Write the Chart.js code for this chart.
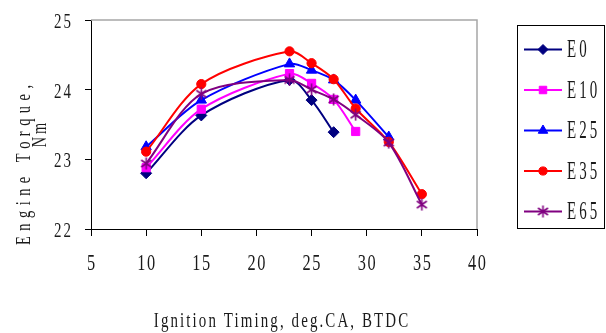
<!DOCTYPE html>
<html>
<head>
<meta charset="utf-8">
<script src="https://cdn.jsdelivr.net/npm/chart.js@4.4.1/dist/chart.umd.min.js"></script>
<style>
    html, body { margin: 0; padding: 0; background: #fff; }
</style>
</head>
<body>
<canvas id="torqueChart" width="606" height="333"></canvas>
<script>
// ignition timing, deg CA BTDC
const timingE0 = [10, 15, 23, 25, 27];
const timingE10 = [10, 15, 23, 25, 27, 29];
const timingE25 = [10, 15, 23, 25, 27, 29, 32];
const timingE35 = [10, 15, 23, 25, 27, 29, 32, 35];
const timingE65 = [10, 15, 23, 25, 27, 29, 32, 35];

// engine torque, Nm
const torqueE0 = [22.80, 23.63, 24.14, 23.85, 23.39];
const torqueE10 = [22.88, 23.72, 24.23, 24.09, 23.86, 23.40];
const torqueE25 = [23.18, 23.85, 24.37, 24.28, 24.14, 23.85, 23.32];
const torqueE35 = [23.11, 24.08, 24.55, 24.38, 24.15, 23.73, 23.25, 22.50];
const torqueE65 = [22.94, 23.94, 24.14, 24.00, 23.86, 23.64, 23.24, 22.35];

const seriesNames = ['E0', 'E10', 'E25', 'E35', 'E65'];
const xTicks = [5, 10, 15, 20, 25, 30, 35, 40];
const yTicks = [22, 23, 24, 25];
const xTitle = 'Ignition Timing, deg.CA, BTDC';
const yTitle = ['Engine Torque,', 'Nm'];

const FONT = '"Liberation Serif", "Times New Roman", serif';

// excel style asterisk: vertical bar plus an X
function starMarker(color) {
    const c = document.createElement('canvas');
    c.width = 13;
    c.height = 13;
    const g = c.getContext('2d');
    g.strokeStyle = color;
    g.lineWidth = 1.6;
    g.beginPath();
    g.moveTo(6.5, 0.5); g.lineTo(6.5, 12.5);
    g.moveTo(1.5, 3); g.lineTo(11.5, 10);
    g.moveTo(11.5, 3); g.lineTo(1.5, 10);
    g.stroke();
    return c;
}

function pairs(xs, ys) {
    return xs.map((x, i) => ({ x: x, y: ys[i] }));
}

// narrow, spaced serif text like the original figure
function drawText(ctx, text, x, y, o) {
    ctx.save();
    ctx.translate(x, y);
    if (o.rotate) ctx.rotate(o.rotate);
    ctx.scale(o.sx, 1);
    ctx.font = o.size + 'px ' + FONT;
    ctx.letterSpacing = (o.spacing / o.sx) + 'px';
    ctx.textBaseline = 'alphabetic';
    ctx.textAlign = 'left';
    const w = ctx.measureText(text).width - o.spacing / o.sx;
    let dx = 0;
    if (o.align === 'center') dx = -w / 2;
    else if (o.align === 'right') dx = -w;
    ctx.fillStyle = '#1a1a1a';
    ctx.fillText(text, dx, 0);
    ctx.restore();
}

const styles = [
    { color: '#000080', pointStyle: 'rectRot', radius: 5.5 },
    { color: '#ff00ff', pointStyle: 'rect', radius: 5.8 },
    { color: '#0000ff', pointStyle: 'triangle', radius: 6 },
    { color: '#ff0000', pointStyle: 'circle', radius: 4.6 },
    { color: '#800080', pointStyle: starMarker('#800080'), radius: 6 }
];
const seriesData = [
    pairs(timingE0, torqueE0),
    pairs(timingE10, torqueE10),
    pairs(timingE25, torqueE25),
    pairs(timingE35, torqueE35),
    pairs(timingE65, torqueE65)
];

const decorPlugin = {
    id: 'decor',
    beforeDatasetsDraw(chart) {
        const a = chart.chartArea;
        const ctx = chart.ctx;
        ctx.save();
        ctx.strokeStyle = '#a6a6a6';
        ctx.lineWidth = 1.5;
        ctx.beginPath();
        ctx.moveTo(a.left, a.top);
        ctx.lineTo(a.right, a.top);
        ctx.lineTo(a.right, a.bottom);
        ctx.stroke();
        ctx.restore();
    },
    afterDraw(chart) {
        const ctx = chart.ctx;
        const xs = chart.scales.x;
        const ys = chart.scales.y;

        xTicks.forEach(v => {
            drawText(ctx, String(v), xs.getPixelForValue(v), 270,
                { size: 24, sx: 0.68, spacing: 1.6, align: 'center' });
        });
        yTicks.forEach(v => {
            drawText(ctx, String(v), 71, ys.getPixelForValue(v) + 8,
                { size: 22, sx: 0.68, spacing: 2, align: 'right' });
        });

        drawText(ctx, xTitle, 281, 327, { size: 22, sx: 0.68, spacing: 2.1, align: 'center' });
        drawText(ctx, yTitle[0], 30, 165, { size: 20, sx: 0.72, spacing: 5.5, align: 'center', rotate: -Math.PI / 2 });
        drawText(ctx, yTitle[1], 46, 135, { size: 20, sx: 0.72, spacing: 3, align: 'center', rotate: -Math.PI / 2 });

        // legend box
        ctx.save();
        ctx.strokeStyle = '#000';
        ctx.lineWidth = 1;
        ctx.strokeRect(517.5, 25.5, 87, 203);
        chart.data.datasets.forEach((ds, i) => {
            const st = styles[i];
            const cy = 49.5 + i * 40.5;
            ctx.strokeStyle = st.color;
            ctx.lineWidth = 2;
            ctx.beginPath();
            ctx.moveTo(524, cy);
            ctx.lineTo(562, cy);
            ctx.stroke();
            ctx.fillStyle = st.color;
            ctx.strokeStyle = st.color;
            ctx.lineWidth = 1;
            Chart.helpers.drawPoint(ctx, {
                pointStyle: st.pointStyle,
                radius: st.radius - 0.5,
                rotation: 0,
                borderWidth: 1
            }, 543, cy);
            drawText(ctx, ds.label, 567, cy + 7.5, { size: 25, sx: 0.6, spacing: 3, align: 'left' });
        });
        ctx.restore();
    }
};

new Chart(document.getElementById('torqueChart'), {
    type: 'line',
    data: {
        datasets: seriesNames.map((name, i) => ({
            label: name,
            data: seriesData[i],
            order: seriesNames.length - i,
            borderColor: styles[i].color,
            backgroundColor: styles[i].color,
            pointBackgroundColor: styles[i].color,
            pointBorderColor: styles[i].color,
            pointStyle: styles[i].pointStyle,
            pointRadius: styles[i].radius,
            pointHoverRadius: styles[i].radius,
            pointBorderWidth: 1,
            borderWidth: 2,
            tension: 0.3,
            fill: false
        }))
    },
    options: {
        responsive: false,
        animation: false,
        devicePixelRatio: 1,
        layout: {
            padding: { top: 20, right: 129, left: 0, bottom: 0 }
        },
        plugins: {
            legend: { display: false },
            tooltip: { enabled: false }
        },
        scales: {
            x: {
                type: 'linear',
                min: 5,
                max: 40,
                afterBuildTicks: s => { s.ticks = xTicks.map(v => ({ value: v })); },
                afterFit: s => { s.height = 104; },
                ticks: { display: false },
                grid: { drawOnChartArea: false, drawTicks: true, tickLength: 7, color: '#000' },
                border: { color: '#000', width: 1 }
            },
            y: {
                type: 'linear',
                min: 22,
                max: 25,
                afterBuildTicks: s => { s.ticks = yTicks.map(v => ({ value: v })); },
                afterFit: s => { s.width = 91; },
                ticks: { display: false },
                grid: { drawOnChartArea: false, drawTicks: true, tickLength: 6, color: '#000' },
                border: { color: '#000', width: 1 }
            }
        }
    },
    plugins: [decorPlugin]
});
</script>
</body>
</html>
